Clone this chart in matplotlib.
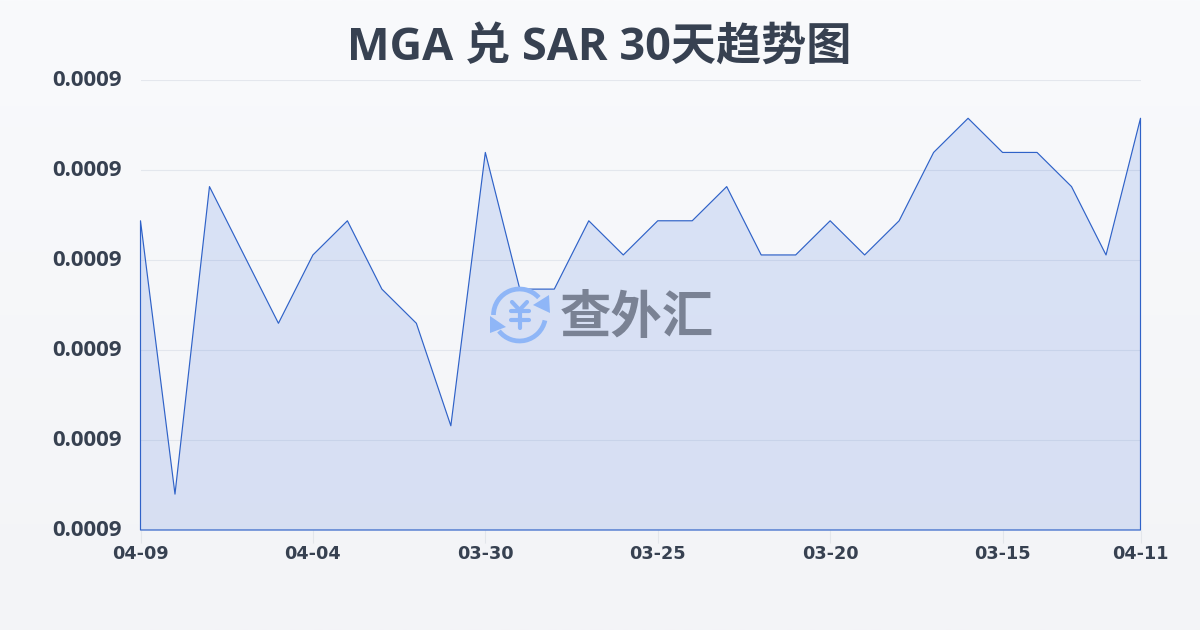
import numpy as np
import matplotlib
matplotlib.use('Agg')
import matplotlib.pyplot as plt
from matplotlib.patches import Arc, Polygon
from matplotlib.ticker import FormatStrFormatter
from matplotlib.colors import LinearSegmentedColormap
from matplotlib.transforms import ScaledTranslation

# ---------------------------------------------------------------
# Data
# ---------------------------------------------------------------
rates = [0.000888, 0.000880, 0.000889, 0.000887, 0.000885, 0.000887, 0.000888, 0.000886,
         0.000885, 0.000882, 0.000890, 0.000886, 0.000886, 0.000888, 0.000887, 0.000888,
         0.000888, 0.000889, 0.000887, 0.000887, 0.000888, 0.000887, 0.000888, 0.000890,
         0.000891, 0.000890, 0.000890, 0.000889, 0.000887, 0.000891]
tick_pos = [0, 5, 10, 15, 20, 25, 29]
tick_labels = ['04-09', '04-04', '03-30', '03-25', '03-20', '03-15', '04-11']
y_min = 0.00087895
y_max = 0.00089212

title = 'MGA 兑 SAR 30天趋势图'
watermark = '查外汇'

# ---------------------------------------------------------------
# Style
# ---------------------------------------------------------------
title_fonts = ['Open Sans', 'Noto Sans CJK SC']
cjk_fonts = ['Noto Sans CJK SC', 'DejaVu Sans']
text_col = '#374151'
line_col = '#2f62c8'
logo_col = '#8fb6f7'

fig = plt.figure(figsize=(12, 6.3), dpi=100)

# background gradient
ax_bg = fig.add_axes([0, 0, 1, 1], zorder=0)
bg_cmap = LinearSegmentedColormap.from_list('bg', ['#f9fafc', '#f3f4f7'])
ax_bg.imshow(np.linspace(0, 1, 256).reshape(-1, 1), aspect='auto', cmap=bg_cmap)
ax_bg.axis('off')

# ---------------------------------------------------------------
# Main chart
# ---------------------------------------------------------------
ax = fig.add_axes([140.5 / 1200, 1 - 530 / 630, 1000 / 1200, 450 / 630], zorder=1)
ax.patch.set_alpha(0)
x = np.arange(len(rates))

ax.fill_between(x, rates, y_min, facecolor='#2860d8', alpha=0.14, linewidth=0, zorder=2)
ax.fill_between(x, rates, y_min, facecolor='none', edgecolor=line_col, linewidth=0.85, zorder=3,
                clip_on=False)

ax.set_xlim(0, len(rates) - 1)
ax.set_ylim(y_min, y_max)
ax.set_yticks(np.linspace(y_min, y_max, 6))
ax.yaxis.set_major_formatter(FormatStrFormatter('%.4f'))
ax.set_xticks(tick_pos)
ax.set_xticklabels(tick_labels)

ax.grid(axis='y', color='#dfe3ea', linewidth=0.8, alpha=0.8, zorder=1)
ax.tick_params(axis='y', length=0, pad=13.5, labelsize=16, labelcolor=text_col)
ax.tick_params(axis='x', length=9, width=0.8, color='#e3e6eb', pad=2, labelsize=12.7, labelcolor=text_col)
label_shift = ScaledTranslation(0, 1.5 / 72, fig.dpi_scale_trans)
for lab in ax.get_xticklabels():
    lab.set_fontweight('bold')
for lab in ax.get_yticklabels():
    lab.set_fontweight('bold')
    lab.set_family('Open Sans')
    lab.set_transform(lab.get_transform() + label_shift)
for side in ax.spines:
    ax.spines[side].set_visible(False)

fig.text(0.499, 1 - 48.5 / 630, title, ha='center', va='center', fontsize=32.5, fontweight='bold',
         color=text_col, family=title_fonts)

# ---------------------------------------------------------------
# Watermark, drawn in pixel coordinates
# ---------------------------------------------------------------
ax_wm = fig.add_axes([0, 0, 1, 1], zorder=2)
ax_wm.set_xlim(0, 1200)
ax_wm.set_ylim(630, 0)
ax_wm.axis('off')

cx, cy = 519.5, 315
ax_wm.add_patch(Arc((cx, cy), 52, 52, theta1=180, theta2=318, color=logo_col, lw=3.4))
ax_wm.add_patch(Arc((cx, cy), 52, 52, theta1=12, theta2=142, color=logo_col, lw=3.4))
ax_wm.add_patch(Polygon([(550, 313), (549, 295), (533, 305)], color=logo_col, lw=0))
ax_wm.add_patch(Polygon([(490, 316), (490, 333), (506, 327)], color=logo_col, lw=0))
ax_wm.plot([512, 519.5, 527], [302, 310, 302], color=logo_col, lw=3, solid_capstyle='round')
ax_wm.plot([519.5, 519.5], [310, 328], color=logo_col, lw=3, solid_capstyle='round')
ax_wm.plot([510.5, 528.5], [311, 311], color=logo_col, lw=3, solid_capstyle='round')
ax_wm.plot([510.5, 528.5], [320, 320], color=logo_col, lw=3, solid_capstyle='round')

ax_wm.text(636.5, 318, watermark, ha='center', va='center', fontsize=37, fontweight='bold',
           color='#7a8294', family=cjk_fonts)

fig.savefig('out.png', dpi=100)
